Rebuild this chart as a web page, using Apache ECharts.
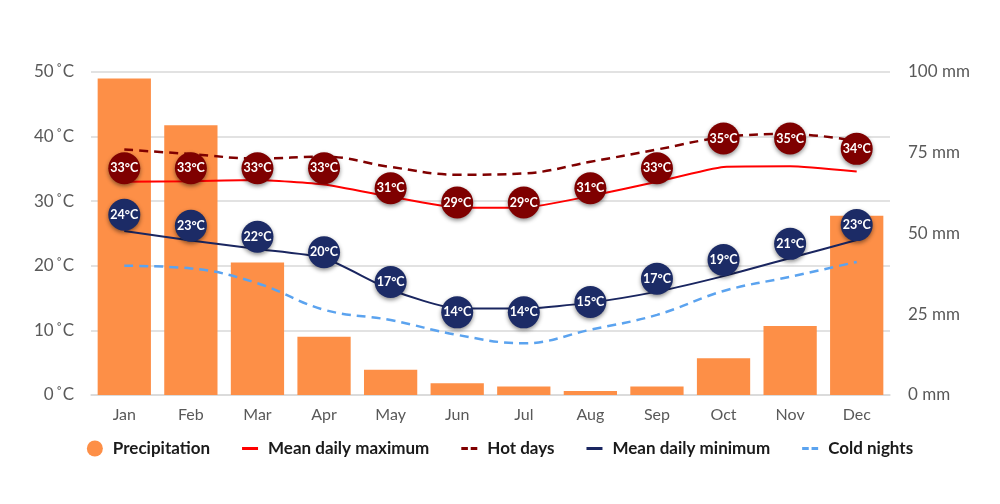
<!DOCTYPE html>
<html>
<head>
<meta charset="utf-8">
<script src="https://cdn.jsdelivr.net/npm/echarts@6/dist/echarts.min.js"></script>
<style>
  html, body { margin: 0; padding: 0; background: #fff; }
  #chart { width: 1000px; height: 504px; }
</style>
</head>
<body>
<div id="chart"></div>
<script>
var months = ['Jan', 'Feb', 'Mar', 'Apr', 'May', 'Jun', 'Jul', 'Aug', 'Sep', 'Oct', 'Nov', 'Dec'];
var precipitation = [98, 83.5, 41, 18, 7.8, 3.6, 2.6, 1.2, 2.6, 11.4, 21.4, 55.5];
var meanMax = [33.0, 33.1, 33.3, 32.6, 30.7, 29.0, 29.0, 30.8, 33.0, 35.3, 35.4, 34.6];
var hotDays = [38.0, 37.3, 36.6, 36.9, 35.3, 34.1, 34.3, 36.1, 38.0, 39.9, 40.4, 39.3];
var meanMin = [25.4, 23.9, 22.6, 21.2, 16.3, 13.4, 13.4, 14.3, 16.0, 18.4, 21.2, 24.0];
var coldNights = [20.0, 19.6, 17.3, 13.2, 11.6, 9.3, 8.0, 10.1, 12.4, 16.1, 18.3, 20.6];
// badge text and where the badges sit (°C axis)
var maxLabels = [33, 33, 33, 33, 31, 29, 29, 31, 33, 35, 35, 34];
var maxBadgeY = [35.1, 35.1, 35.1, 35.1, 32.0, 29.8, 29.8, 32.0, 35.1, 39.7, 39.7, 38.1];
var minLabels = [24, 23, 22, 20, 17, 14, 14, 15, 17, 19, 21, 23];
var minBadgeY = [27.9, 26.2, 24.5, 22.1, 17.5, 12.8, 12.8, 14.4, 18.0, 20.9, 23.4, 26.3];

var chart = echarts.init(document.getElementById('chart'));

var solidIcon = 'path://M0,0h16v3h-16z';
var dashIcon = 'path://M0,0h7v3h-7zM10,0h7v3h-7z';

function badge(name, ys, labels, color) {
    return {
        name: name,
        type: 'scatter',
        yAxisIndex: 0,
        symbol: 'circle',
        symbolSize: 32,
        z: 10,
        itemStyle: {
            color: color,
            opacity: 1,
            shadowBlur: 4,
            shadowOffsetY: 2,
            shadowColor: 'rgba(0,0,0,0.45)'
        },
        label: {
            show: true,
            position: 'inside',
            color: '#fff',
            fontSize: 12.5,
            fontWeight: 'bold',
            fontFamily: 'Lato',
            formatter: function (p) { return labels[p.dataIndex] + '°C'; }
        },
        emphasis: { disabled: true },
        data: ys
    };
}

option = {
    animation: false,
    textStyle: { fontFamily: 'Lato' },
    grid: { left: 91, right: 110, top: 72, bottom: 109 },
    legend: {
        bottom: 42,
        itemGap: 32,
        itemWidth: 16,
        itemHeight: 16,
        textStyle: { fontSize: 17, fontWeight: 'bold', color: '#1a1a1a', padding: [0, 0, 0, 5] },
        data: [
            { name: 'Precipitation', icon: 'circle' },
            { name: 'Mean daily maximum', icon: solidIcon },
            { name: 'Hot days', icon: dashIcon },
            { name: 'Mean daily minimum', icon: solidIcon },
            { name: 'Cold nights', icon: dashIcon }
        ]
    },
    xAxis: {
        type: 'category',
        data: months,
        axisTick: { show: false },
        axisLine: { lineStyle: { color: '#d9d9d9', width: 1.5 } },
        axisLabel: { color: '#595959', fontSize: 16, margin: 12 }
    },
    yAxis: [
        {
            type: 'value',
            min: 0, max: 50, interval: 10,
            axisLabel: { color: '#595959', fontSize: 17, margin: 17, formatter: '{value}\u2009˚C' },
            splitLine: { lineStyle: { color: '#d9d9d9', width: 1.5 } },
            axisLine: { show: false },
            axisTick: { show: false }
        },
        {
            type: 'value',
            min: 0, max: 100, interval: 25,
            axisLabel: { color: '#595959', fontSize: 17, margin: 18, formatter: '{value} mm' },
            splitLine: { show: false },
            axisLine: { show: false },
            axisTick: { show: false }
        }
    ],
    series: [
        {
            name: 'Precipitation',
            type: 'bar',
            yAxisIndex: 1,
            barCategoryGap: '20%',
            itemStyle: { color: '#fd8f47' },
            data: precipitation
        },
        {
            name: 'Mean daily maximum',
            type: 'line',
            symbol: 'none',
            smooth: 0.15,
            itemStyle: { color: '#ff0000' },
            lineStyle: { color: '#ff0000', width: 2 },
            data: meanMax
        },
        {
            name: 'Hot days',
            type: 'line',
            symbol: 'none',
            smooth: 0.4,
            itemStyle: { color: '#800000' },
            lineStyle: { color: '#800000', width: 2.5, type: [9, 6] },
            data: hotDays
        },
        {
            name: 'Mean daily minimum',
            type: 'line',
            symbol: 'none',
            smooth: 0.2,
            itemStyle: { color: '#1a2660' },
            lineStyle: { color: '#1a2660', width: 2 },
            data: meanMin
        },
        {
            name: 'Cold nights',
            type: 'line',
            symbol: 'none',
            smooth: 0.4,
            itemStyle: { color: '#5ba3ef' },
            lineStyle: { color: '#5ba3ef', width: 2.5, type: [9, 6] },
            data: coldNights
        },
        badge('maxBadges', maxBadgeY, maxLabels, '#7f0000'),
        badge('minBadges', minBadgeY, minLabels, '#1c2b66')
    ]
};

chart.setOption(option);
</script>
</body>
</html>
